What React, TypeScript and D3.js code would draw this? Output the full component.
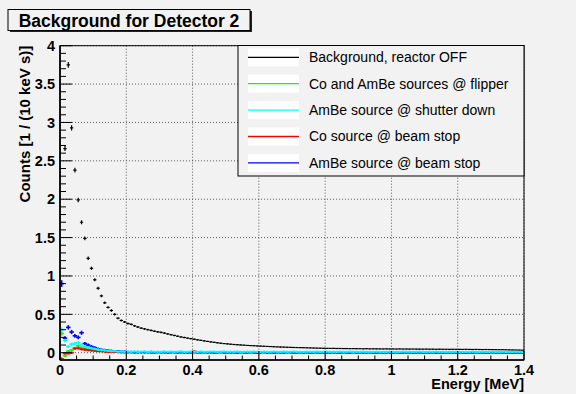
import React from "react";
import * as d3 from "d3";

const BIN_WIDTH = 0.01;
const xTicks = [0, 0.2, 0.4, 0.6, 0.8, 1, 1.2, 1.4];
const yTicks = [0, 0.5, 1, 1.5, 2, 2.5, 3, 3.5, 4];

const seriesNames = [
  "Background, reactor OFF",
  "Co and AmBe sources @ flipper",
  "AmBe source @ shutter down",
  "Co source @ beam stop",
  "AmBe source @ beam stop",
];
const seriesColors = ["#000000", "#00ff00", "#00ffff", "#ff0000", "#0000ff"];

const background = [
  4.6, 2.66, 3.75, 2.93, 2.38, 1.99, 1.70, 1.49, 1.23, 1.10,
  0.95, 0.84, 0.74, 0.65, 0.59, 0.55, 0.50, 0.45, 0.42, 0.40,
  0.38, 0.37, 0.35, 0.335, 0.32, 0.31, 0.30, 0.29, 0.28, 0.272,
  0.265, 0.255, 0.245, 0.235, 0.225, 0.215, 0.205, 0.198, 0.19, 0.183,
  0.176, 0.168, 0.161, 0.154, 0.147, 0.141, 0.135, 0.129, 0.124, 0.119,
  0.115, 0.111, 0.107, 0.104, 0.101, 0.098, 0.095, 0.093, 0.091, 0.088,
  0.086, 0.084, 0.082, 0.080, 0.078, 0.076, 0.074, 0.073, 0.071, 0.070,
  0.068, 0.067, 0.066, 0.065, 0.064, 0.062, 0.061, 0.060, 0.059, 0.058,
  0.057, 0.056, 0.057, 0.055, 0.055, 0.054, 0.054, 0.053, 0.053, 0.052,
  0.052, 0.051, 0.052, 0.050, 0.051, 0.050, 0.050, 0.049, 0.050, 0.049,
  0.049, 0.048, 0.049, 0.048, 0.048, 0.047, 0.048, 0.047, 0.047, 0.046,
  0.047, 0.046, 0.046, 0.045, 0.046, 0.045, 0.045, 0.044, 0.045, 0.044,
  0.044, 0.043, 0.044, 0.043, 0.042, 0.043, 0.042, 0.041, 0.042, 0.041,
  0.040, 0.040, 0.039, 0.039, 0.038, 0.037, 0.036, 0.035, 0.034, 0.033,
];

const flipper = [
  0.25, -0.04, 0.02, 0.035, 0.06, 0.09, 0.065, 0.05, 0.04, 0.035,
  0.03, 0.025, 0.02, 0.02, 0.015, 0.015, 0.01, 0.01, 0.008, 0.005,
  .006, .004, .008, .002, .005, .007, .003, .006, .001, .004,
  .007, .003, .005, .002, .006, .004, .000, .005, .003, .007,
  .002, .005, .004, .001, .006, .003, .005, .002, .004, .006,
  .003, .001, .005, .004, .002, .006, .003, .004, .001, .005,
  .003, .006, .002, .004, .005, .001, .003, .006, .002, .004,
  .005, .002, .003, .001, .006, .004, .002, .005, .003, .001,
  .004, .006, .002, .003, .005, .001, .004, .002, .006, .003,
  .002, .005, .003, .001, .004, .006, .002, .003, .005, .002,
  .004, .001, .003, .005, .002, .004, .003, .001, .005, .002,
  .003, .004, .002, .005, .001, .003, .004, .002, .003, .005,
  .001, .003, .004, .002, .005, .003, .001, .004, .002, .003,
  .004, .002, .003, .001, .005, .002, .003, .004, .002, .003,
];

const shutter = [
  0.30, 0.16, 0.08, 0.11, 0.12, 0.13, 0.10, 0.08, 0.07, 0.06,
  0.05, 0.04, 0.035, 0.03, 0.025, 0.02, 0.02, 0.015, 0.015, 0.012,
  .014, .012, .016, .011, .013, .015, .010, .014, .012, .013,
  .011, .015, .012, .014, .010, .013, .016, .011, .012, .014,
  .013, .010, .015, .012, .011, .014, .013, .010, .012, .015,
  .011, .013, .012, .014, .010, .012, .013, .011, .014, .012,
  .010, .013, .012, .011, .014, .012, .010, .013, .011, .012,
  .014, .011, .012, .010, .013, .012, .011, .014, .010, .012,
  .013, .011, .012, .010, .013, .011, .012, .014, .010, .012,
  .011, .013, .010, .012, .011, .013, .012, .010, .011, .013,
  .012, .010, .011, .013, .012, .011, .010, .012, .013, .011,
  .010, .012, .011, .013, .010, .011, .012, .010, .011, .012,
  .011, .010, .012, .011, .013, .010, .011, .012, .010, .011,
  .012, .010, .011, .012, .010, .011, .010, .012, .011, .010,
];

const coBeamStop = [
  -0.08, -0.01, -0.01, 0.00, 0.055, 0.06, 0.045, 0.04, 0.035, 0.03,
  0.025, 0.02, 0.02, 0.015, 0.01, 0.01, 0.01, 0.008, 0.005, 0.005,
  .004, .007, .002, .005, .009, .003, .006, .001, .004, .008,
  .003, .005, .002, .006, .004, .001, .007, .003, .005, .002,
  .018, .004, .003, .006, .002, .005, .001, .004, .007, .003,
  .002, .005, .004, .001, .006, .003, .002, .005, .004, .001,
  .003, .006, .002, .004, .001, .005, .003, .002, .006, .004,
  .001, .003, .005, .002, .004, .001, .006, .003, .002, .004,
  .005, .002, .003, .001, .004, .006, .002, .003, .005, .001,
  .003, .004, .002, .005, .001, .003, .004, .002, .006, .003,
  .002, .004, .001, .003, .005, .002, .004, .003, .001, .005,
  .003, .002, .004, .001, .003, .005, .002, .004, .003, .002,
  .004, .001, .003, .005, .002, .003, .004, .001, .003, .002,
  .005, .003, .002, .004, .001, .003, .002, .004, .003, .002,
];

const ambeBeamStop = [
  0.90, 0.19, 0.33, 0.27, 0.22, 0.20, 0.26, 0.12, 0.10, 0.08,
  0.065, 0.05, 0.04, 0.035, 0.03, 0.025, 0.02, 0.02, 0.015, 0.015,
  .012, .010, .008, .011, .006, .009, .007, .010, .005, .008,
  .006, .009, .004, .007, .008, .005, .009, .006, .003, .007,
  .008, .004, .006, .009, .005, .007, .003, .006, .008, .004,
  .007, .005, .006, .003, .008, .005, .004, .007, .006, .002,
  .005, .008, .004, .006, .003, .007, .005, .004, .006, .008,
  .003, .005, .007, .004, .006, .002, .005, .007, .004, .006,
  .003, .005, .008, .004, .002, .006, .005, .003, .007, .004,
  .006, .003, .005, .007, .004, .002, .006, .005, .003, .006,
  .004, .007, .003, .005, .004, .006, .002, .005, .007, .003,
  .005, .004, .006, .003, .005, .002, .006, .004, .005, .003,
  .006, .004, .002, .005, .003, .006, .004, .005, .002, .004,
  .005, .003, .006, .004, .003, .005, .002, .004, .005, .003,
];

const seriesData = [background, flipper, shutter, coBeamStop, ambeBeamStop];
const errScale = [0.0004, 0.002, 0.002, 0.002, 0.002];

const W = 576;
const H = 394;
const L = 60, R = 524, T = 45.7, B = 360;

export default function App() {
  const x = d3.scaleLinear().domain([0, 1.4]).range([L, R]);
  const y = d3.scaleLinear().domain([-0.095, 4]).range([B, T]);
  const xMinor = d3.range(0, 1.4001, 0.05);
  const yMinor = d3.range(0, 4.0001, 0.1);
  const font = "'Liberation Sans', Arial, Helvetica, sans-serif";

  const drawOrder = [0, 1, 3, 4, 2];

  return (
    <svg width={W} height={H} style={{ position: "absolute", left: 0, top: 0, fontFamily: font }}>
      <defs>
        <clipPath id="plotClip">
          <rect x={L} y={T} width={R - L} height={B - T} />
        </clipPath>
      </defs>
      <rect x={0} y={0} width={W} height={H} fill="#f2f2f2" />

      {/* grid */}
      <g stroke="#333" strokeWidth={0.8} strokeDasharray="1,2">
        {xTicks.map((t) => (
          <line key={"gx" + t} x1={x(t)} x2={x(t)} y1={T} y2={B} />
        ))}
        {yTicks.map((t) => (
          <line key={"gy" + t} x1={L} x2={R} y1={y(t)} y2={y(t)} />
        ))}
      </g>

      {/* data */}
      <g clipPath="url(#plotClip)">
        {drawOrder.map((si) => {
          const vals = seriesData[si];
          const c = seriesColors[si];
          return (
            <g key={"s" + si} stroke={c} strokeWidth={si === 0 ? 1.2 : 1.6}>
              {vals.map((v, i) => {
                const x0 = x(i * BIN_WIDTH);
                const x1 = x((i + 1) * BIN_WIDTH);
                const xc = (x0 + x1) / 2;
                const e = Math.sqrt(Math.abs(v) * errScale[si] + (si === 0 ? 0 : 0.0002));
                return (
                  <g key={i}>
                    <line x1={x0 - (si === 0 ? 0 : 0.6)} x2={x1 + (si === 0 ? 0 : 0.6)} y1={y(v)} y2={y(v)} />
                    <line x1={xc} x2={xc} y1={y(v - e)} y2={y(v + e)} />
                  </g>
                );
              })}
            </g>
          );
        })}
      </g>

      {/* frame */}
      <rect x={L} y={T} width={R - L} height={B - T} fill="none" stroke="#000" strokeWidth={1} />
      <line x1={L} x2={L} y1={T} y2={B} stroke="#000" strokeWidth={1.6} />
      <line x1={L} x2={R} y1={B} y2={B} stroke="#000" strokeWidth={1.6} />

      {/* ticks */}
      <g stroke="#000" strokeWidth={1}>
        {yMinor.map((t, i) => (
          <line key={"ym" + i} x1={L} x2={L + (i % 5 === 0 ? 12 : 6)} y1={y(t)} y2={y(t)} />
        ))}
        {xMinor.map((t, i) => (
          <line key={"xm" + i} x1={x(t)} x2={x(t)} y1={B} y2={B - (i % 4 === 0 ? 9 : 4.5)} />
        ))}
      </g>

      {/* tick labels */}
      <g fontWeight="bold" fontSize={14.5} fill="#000">
        {yTicks.map((t) => (
          <text key={"yl" + t} x={55} y={y(t)} dy="0.36em" textAnchor="end">
            {d3.format("")(t)}
          </text>
        ))}
        {xTicks.map((t) => (
          <text key={"xl" + t} x={x(t)} y={374.5} textAnchor="middle">
            {d3.format("")(t)}
          </text>
        ))}
      </g>

      {/* axis titles */}
      <text x={R} y={389} textAnchor="end" fontWeight="bold" fontSize={14.5}>
        Energy [MeV]
      </text>
      <text
        transform={`translate(30, ${T}) rotate(-90)`}
        textAnchor="end"
        fontWeight="bold"
        fontSize={15}
      >
        Counts [1 / (10 keV s)]
      </text>

      {/* title box */}
      <rect x={10} y={11} width={242} height={21} fill="#222" />
      <rect x={8} y={9.5} width={242} height={21} fill="#f2f2f2" stroke="#000" strokeWidth={1} />
      <text x={129} y={26.5} textAnchor="middle" fontWeight="bold" fontSize={17.5}>
        Background for Detector 2
      </text>

      {/* legend */}
      <rect x={238} y={45.5} width={286} height={130.5} fill="#f2f2f2" stroke="#000" strokeWidth={1} />
      {seriesNames.map((name, i) => {
        const cy = 57.3 + i * 26.4;
        return (
          <g key={"lg" + i}>
            <rect x={248} y={cy - 9} width={51} height={18} fill="#ffffff" />
            <line x1={248} x2={299} y1={cy} y2={cy} stroke={seriesColors[i]} strokeWidth={1.3} />
            <text x={309} y={cy} dy="0.35em" fontSize={14}>
              {name}
            </text>
          </g>
        );
      })}
    </svg>
  );
}
